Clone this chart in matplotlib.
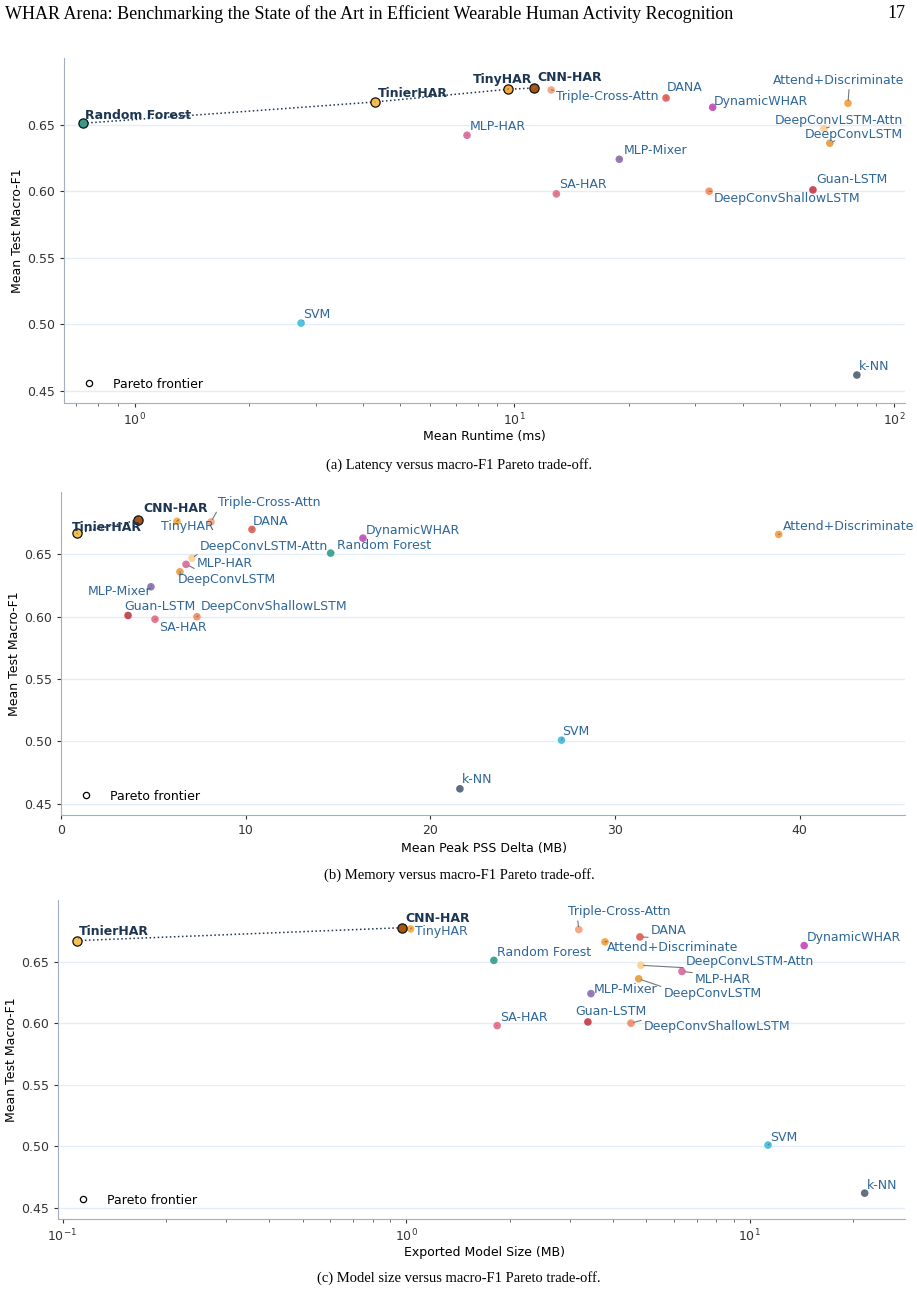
import numpy as np
import matplotlib
matplotlib.use("Agg")
import matplotlib.pyplot as plt
from matplotlib.lines import Line2D

models = [
    "Random Forest", "TinierHAR", "TinyHAR", "CNN-HAR", "Triple-Cross-Attn",
    "DANA", "DynamicWHAR", "Attend+Discriminate", "DeepConvLSTM-Attn",
    "DeepConvLSTM", "MLP-HAR", "MLP-Mixer", "SA-HAR", "DeepConvShallowLSTM",
    "Guan-LSTM", "SVM", "k-NN",
]
macro_f1 = [0.651, 0.667, 0.6765, 0.6775, 0.676, 0.670, 0.663, 0.666, 0.647,
            0.636, 0.642, 0.624, 0.598, 0.600, 0.601, 0.501, 0.462]
runtime_ms = [0.73, 4.29, 9.6, 11.25, 12.5, 25.1, 33.3, 75.7, 65.4,
              67.8, 7.5, 18.9, 12.9, 32.6, 61.2, 2.74, 79.9]
peak_pss_mb = [14.6, 0.87, 6.28, 4.17, 8.12, 10.34, 16.35, 38.86, 7.09,
               6.44, 6.77, 4.87, 5.09, 7.36, 3.63, 27.1, 21.6]
model_size_mb = [1.80, 0.110, 1.03, 0.973, 3.18, 4.79, 14.4, 3.79, 4.82,
                 4.75, 6.35, 3.45, 1.84, 4.51, 3.38, 11.3, 21.6]

colors = ["#2f9e8a", "#f6c04f", "#f7a935", "#a8540f", "#f4a07c", "#e05a4f",
          "#c548b8", "#f89a38", "#fbd090", "#e89a3c", "#d8679a", "#8c6cb0",
          "#e36a82", "#f4895f", "#c93646", "#3cbde0", "#4f5d75"]

# label offsets in pixels (left edge, vertical centre) per panel
offs_a = {
    "Random Forest": (2, 8), "TinierHAR": (3, 8), "TinyHAR": (-35, 10),
    "CNN-HAR": (4, 10), "Triple-Cross-Attn": (5, -7), "DANA": (1, 10),
    "DynamicWHAR": (1, 6), "Attend+Discriminate": (-75, 23),
    "DeepConvLSTM-Attn": (-49, 8), "DeepConvLSTM": (-25, 9), "MLP-HAR": (3, 9),
    "MLP-Mixer": (4, 9), "SA-HAR": (3, 9), "DeepConvShallowLSTM": (5, -7),
    "Guan-LSTM": (3, 10), "SVM": (2, 9), "k-NN": (2, 9),
}
offs_b = {
    "Random Forest": (6, 8), "TinierHAR": (-5, 6), "TinyHAR": (-16, -5),
    "CNN-HAR": (5, 12), "Triple-Cross-Attn": (7, 19), "DANA": (1, 8),
    "DynamicWHAR": (3, 8), "Attend+Discriminate": (4, 8),
    "DeepConvLSTM-Attn": (8, 12), "DeepConvLSTM": (-2, -8), "MLP-HAR": (11, 1),
    "MLP-Mixer": (-63, -5), "SA-HAR": (4, -8), "DeepConvShallowLSTM": (4, 10),
    "Guan-LSTM": (-4, 9), "SVM": (1, 9), "k-NN": (2, 9),
}
offs_c = {
    "Random Forest": (3, 8), "TinierHAR": (2, 9), "TinyHAR": (4, -3),
    "CNN-HAR": (3, 9), "Triple-Cross-Attn": (-11, 18), "DANA": (11, 6),
    "DynamicWHAR": (3, 8), "Attend+Discriminate": (2, -6),
    "DeepConvLSTM-Attn": (45, 4), "DeepConvLSTM": (25, -15), "MLP-HAR": (13, -8),
    "MLP-Mixer": (3, 4), "SA-HAR": (3, 8), "DeepConvShallowLSTM": (13, -3),
    "Guan-LSTM": (-13, 10), "SVM": (2, 8), "k-NN": (2, 8),
}

LABEL_BLUE = "#2f6698"
FRONT_NAVY = "#1b3552"
GRID = "#e2edf7"
SPINE = "#a3afbf"
FS = 9.0

W, H = 917, 1293


def pareto(xs, ys):
    idx = []
    for i in range(len(xs)):
        dominated = False
        for j in range(len(xs)):
            if j != i and xs[j] <= xs[i] and ys[j] >= ys[i] and (xs[j] < xs[i] or ys[j] > ys[i]):
                dominated = True
                break
        if not dominated:
            idx.append(i)
    return sorted(idx, key=lambda k: xs[k])


def panel(ax, xs, offs, xlabel, xlog, xlim, px):
    l, r, t, b = px
    front = pareto(xs, macro_f1)
    if xlog:
        ax.set_xscale("log")
    ax.set_xlim(*xlim)
    ax.set_ylim(0.441, 0.70)
    ax.set_yticks([0.45, 0.50, 0.55, 0.60, 0.65])
    ax.yaxis.grid(True, color=GRID, lw=1.0)
    ax.set_axisbelow(True)
    for s in ("top", "right"):
        ax.spines[s].set_visible(False)
    for s in ("left", "bottom"):
        ax.spines[s].set_color(SPINE)
    ax.tick_params(labelsize=FS, colors="#333333", length=3)
    ax.tick_params(which="minor", colors="#555555", length=2)

    fx = [xs[i] for i in front]
    fy = [macro_f1[i] for i in front]
    ax.plot(fx, fy, ls=":", color=FRONT_NAVY, lw=1.1, zorder=2)

    for i, name in enumerate(models):
        on = i in front
        ax.scatter(xs[i], macro_f1[i], s=44 if on else 30, color=colors[i],
                   edgecolor="#111111" if on else "none", linewidth=0.9,
                   alpha=1.0 if on else 0.9, zorder=4 if on else 3)
        dx, dy = offs[name]
        w = len(name) * (7.5 if on else 6.8)
        relx = min(max(-dx / w, 0.0), 1.0)
        rely = 0.0 if dy > 0 else 1.0
        ax.annotate(name, (xs[i], macro_f1[i]), xytext=(dx, dy),
                    textcoords="offset pixels", ha="left", va="center",
                    fontsize=FS, color=FRONT_NAVY if on else LABEL_BLUE,
                    fontweight="bold" if on else "normal", zorder=5,
                    arrowprops=dict(arrowstyle="-", color="#777777", lw=0.8,
                                    shrinkA=0, shrinkB=2, relpos=(relx, rely)))

    ax.set_xlabel(xlabel, fontsize=FS)
    ax.set_ylabel("Mean Test Macro-F1", fontsize=FS)
    ax.xaxis.set_label_coords((484 - l) / (r - l), -27 / (b - t))
    ax.yaxis.set_label_coords(-40 / (r - l), 0.5)
    handle = Line2D([], [], ls="none", marker="o", markersize=4.5,
                    markerfacecolor="white", markeredgecolor="black", markeredgewidth=0.9)
    ax.legend([handle], ["Pareto frontier"], loc="lower left", frameon=False,
              fontsize=FS, borderaxespad=0.6, handletextpad=0.9)


fig = plt.figure(figsize=(W / 100, H / 100), dpi=100)


def box(l, r, t, b):
    return [l / W, 1 - b / H, (r - l) / W, (b - t) / H]


px_a = (64, 905, 58, 403)
px_b = (61, 905, 492, 815)
px_c = (58, 905, 900, 1219)
ax_a = fig.add_axes(box(*px_a))
ax_b = fig.add_axes(box(*px_b))
ax_c = fig.add_axes(box(*px_c))

panel(ax_a, runtime_ms, offs_a, "Mean Runtime (ms)", True, (0.65, 107), px_a)
panel(ax_b, peak_pss_mb, offs_b, "Mean Peak PSS Delta (MB)", False, (0, 45.7), px_b)
panel(ax_c, model_size_mb, offs_c, "Exported Model Size (MB)", True, (0.097, 28.3), px_c)

serif = ["Liberation Serif", "DejaVu Serif"]
fig.text(5 / W, 1 - 14 / H,
         "WHAR Arena: Benchmarking the State of the Art in Efficient Wearable Human Activity Recognition",
         family=serif, fontsize=13.0, ha="left", va="center")
fig.text(905 / W, 1 - 14 / H, "17", family=serif, fontsize=13.0, ha="right", va="center")
fig.text(459 / W, 1 - 465 / H, "(a) Latency versus macro-F1 Pareto trade-off.",
         family=serif, fontsize=10.5, ha="center", va="center")
fig.text(459 / W, 1 - 875 / H, "(b) Memory versus macro-F1 Pareto trade-off.",
         family=serif, fontsize=10.5, ha="center", va="center")
fig.text(459 / W, 1 - 1278 / H, "(c) Model size versus macro-F1 Pareto trade-off.",
         family=serif, fontsize=10.5, ha="center", va="center")

fig.savefig("out.png", dpi=100)
